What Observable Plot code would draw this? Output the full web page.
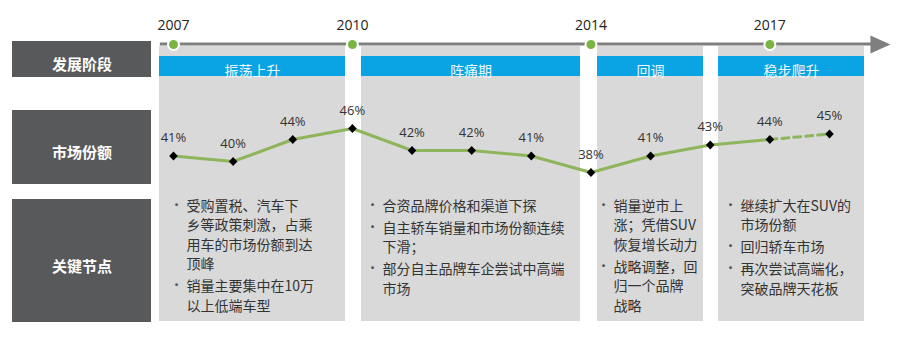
<!DOCTYPE html>
<html>
<head>
<meta charset="utf-8">
<script src="https://cdn.jsdelivr.net/npm/d3@7"></script>
<script src="https://cdn.jsdelivr.net/npm/@observablehq/plot@0.6"></script>
<style>
  html, body { margin: 0; padding: 0; background: #fff; }
  #chart { width: 900px; height: 340px; }
</style>
</head>
<body>
<div id="chart"></div>
<script>
// ---------- data ----------
const years = [2007, 2008, 2009, 2010, 2011, 2012, 2013, 2014, 2015, 2016, 2017, 2018];
const share = [41, 40, 44, 46, 42, 42, 41, 38, 41, 43, 44, 45];
const forecastFrom = 2017;               // last segment is dashed (forecast)
const milestoneYears = [2007, 2010, 2014, 2017];
const stageNames = ["振荡上升", "阵痛期", "回调", "稳步爬升"];
const rowLabels = ["发展阶段", "市场份额", "关键节点"];
const stageNotes = [
  ["受购置税、汽车下\n乡等政策刺激，占乘\n用车的市场份额到达\n顶峰", "销量主要集中在10万\n以上低端车型"],
  ["合资品牌价格和渠道下探", "自主轿车销量和市场份额连续\n下滑；", "部分自主品牌车企尝试中高端\n市场"],
  ["销量逆市上\n涨；凭借SUV\n恢复增长动力", "战略调整，回\n归一个品牌\n战略"],
  ["继续扩大在SUV的\n市场份额", "回归轿车市场", "再次尝试高端化，\n突破品牌天花板"]
];

// ---------- layout (not data) ----------
const W = 900, H = 340;
const stageSpan = [[2006.765, 2009.884], [2010.152, 2013.825], [2014.110, 2015.887], [2016.139, 2018.587]];
const timelineSpan = [2006.78, 2018.72];
const noteTextOffset = [27, 21, 16, 22];   // px from panel left
const rowBands = [[41, 77], [110, 184], [199, 322]];
const fontLatin = "'Open Sans', 'Noto Sans CJK SC', sans-serif";
const fontCJK = "'Noto Sans CJK SC', 'Open Sans', sans-serif";

const C = {
  dark: "#58595b", panel: "#d9d9d9", blue: "#0aa3e3", axis: "#7f7f7f",
  dotGreen: "#7ab544", line: "#8fb55c", text: "#333333"
};

const data = years.map((y, i) => ({year: y, share: share[i]}));
const solid = data.filter(d => d.year <= forecastFrom);
const dashed = data.filter(d => d.year >= forecastFrom);
const stages = stageNames.map((name, i) => ({name, x1: stageSpan[i][0], x2: stageSpan[i][1]}));
const milestones = milestoneYears.map(y => ({year: y, label: String(y)}));

const arrowSymbol = {
  draw(ctx) { ctx.moveTo(-2, -9); ctx.lineTo(18, 0); ctx.lineTo(-2, 9); ctx.closePath(); }
};
const diamondSymbol = {
  draw(ctx) { ctx.moveTo(0, -4.6); ctx.lineTo(4.3, 0); ctx.lineTo(0, 4.6); ctx.lineTo(-4.3, 0); ctx.closePath(); }
};

// left row labels
const rowMarks = rowLabels.map((label, i) => [
  Plot.rect([label], {fill: C.dark, insetLeft: 12, insetRight: W - 151, insetTop: rowBands[i][0], insetBottom: H - rowBands[i][1]}),
  Plot.text([label], {text: d => d, frameAnchor: "top-left", dx: 81.5, dy: (rowBands[i][0] + rowBands[i][1]) / 2,
    textAnchor: "middle", fill: "white", fontWeight: "bold", fontSize: 15, fontFamily: fontCJK})
]);

// bullet notes
const lineH = 19.5, paraGap = 2.5, firstCenter = 205, fs = 14;
const noteMarks = [];
stageNotes.forEach((paras, si) => {
  let cy = firstCenter;
  const leftX = stageSpan[si][0];
  paras.forEach(p => {
    const n = p.split("\n").length;
    noteMarks.push(Plot.text([p], {
      x: () => leftX, text: d => d, frameAnchor: "top", dy: cy - 8.6, dx: noteTextOffset[si],
      textAnchor: "start", lineAnchor: "top", lineHeight: lineH / fs, fontSize: fs,
      fill: C.text, fontFamily: fontCJK
    }));
    noteMarks.push(Plot.text(["·"], {
      x: () => leftX, text: d => d, frameAnchor: "top", dy: cy - 1, dx: noteTextOffset[si] - 10,
      textAnchor: "middle", lineAnchor: "middle", fontSize: 16, fontWeight: "bold",
      fill: "#555", fontFamily: fontLatin
    }));
    cy += n * lineH + paraGap;
  });
});

const chart = Plot.plot({
  width: W, height: H,
  marginTop: 0, marginBottom: 0, marginLeft: 0, marginRight: 0,
  x: {domain: [2007, 2018], range: [173, 829], axis: null},
  y: {domain: [38, 46], range: [172, 128], axis: null},
  style: {background: "white", fontFamily: fontLatin, overflow: "visible"},
  marks: [
    // gray stage panels
    Plot.rect(stages, {x1: "x1", x2: "x2", fill: C.panel, insetTop: 46, insetBottom: H - 321}),
    // blue stage headers
    Plot.rect(stages, {x1: "x1", x2: "x2", fill: C.blue, insetTop: 56, insetBottom: H - 76}),
    Plot.text(stages, {x: d => (d.x1 + d.x2) / 2, text: "name", frameAnchor: "top", dy: 66,
      fill: "#eef8fd", fontSize: 14, fontFamily: fontCJK}),
    // timeline
    Plot.rect([timelineSpan], {x1: d => d[0], x2: d => d[1], fill: C.axis, insetTop: 42.5, insetBottom: H - 45.5}),
    Plot.dot([timelineSpan], {x: d => d[1], frameAnchor: "top", dy: 44, symbol: arrowSymbol, fill: C.axis, stroke: null}),
    Plot.dot(milestones, {x: "year", frameAnchor: "top", dy: 44, r: 5.5, fill: C.dotGreen, stroke: "white", strokeWidth: 2}),
    Plot.text(milestones, {x: "year", text: "label", frameAnchor: "top", dy: 20, fontSize: 14, fill: "#222"}),
    // row labels
    ...rowMarks,
    // market share line
    Plot.line(solid, {x: "year", y: "share", stroke: C.line, strokeWidth: 3}),
    Plot.line(dashed, {x: "year", y: "share", stroke: C.line, strokeWidth: 3, strokeDasharray: "7,5"}),
    Plot.dot(data, {x: "year", y: "share", symbol: diamondSymbol, fill: "black", stroke: null}),
    Plot.text(data, {x: "year", y: "share", text: d => d.share + "%", dy: -18, fontSize: 13, fill: C.text}),
    // notes
    ...noteMarks
  ]
});
document.getElementById("chart").appendChild(chart);
</script>
</body>
</html>
